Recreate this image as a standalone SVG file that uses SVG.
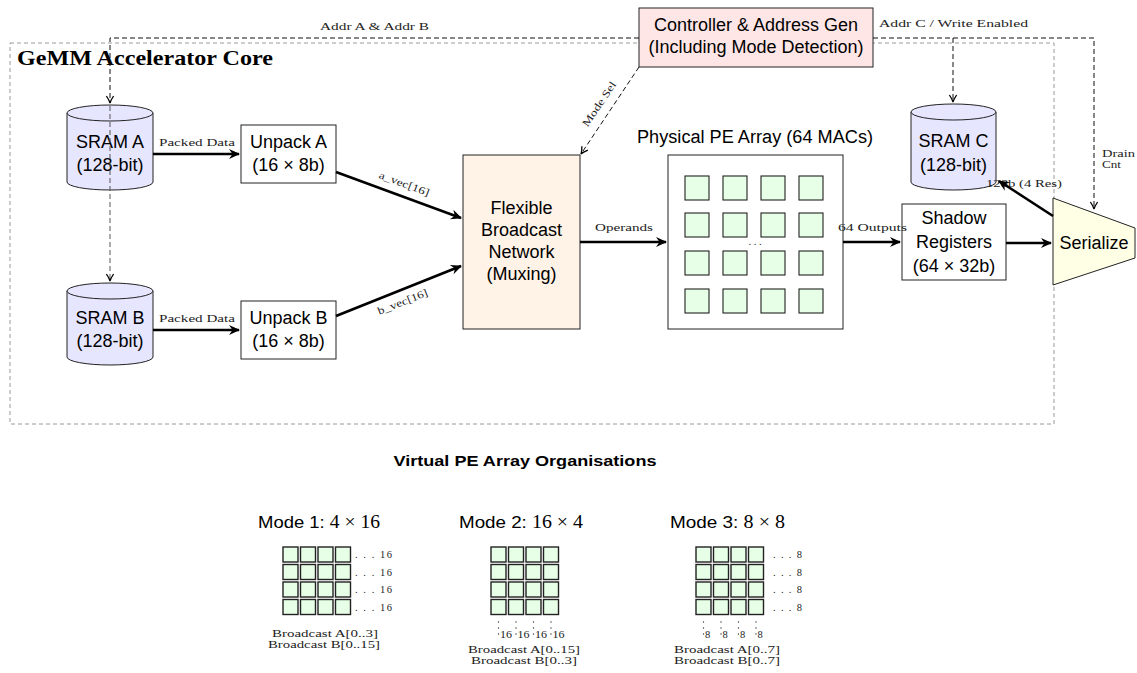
<svg xmlns="http://www.w3.org/2000/svg" width="1137" height="673" viewBox="0 0 1137 673">
  <style>
    .lbl { font-family: "Liberation Sans", Arial, sans-serif; font-size: 18px; fill: #000; text-anchor: middle; }
    .sm { font-family: "Liberation Serif", "Times New Roman", serif; font-size: 10.5px; fill: #222; }
    .mid { text-anchor: middle; }
    .box { stroke: #222; stroke-width: 1; }
    .ctl { fill: none; stroke: #111; stroke-width: 1; stroke-dasharray: 5 3; }
    .data { fill: none; stroke: #000; stroke-width: 2.6; }
    .pe { fill: #e6ffe6; stroke: #222; stroke-width: 1.1; }
    .pes { fill: #e6ffe6; stroke: #222; stroke-width: 1.4; }
    .mode { font-family: "Liberation Sans", Arial, sans-serif; font-size: 17px; fill: #000; }
    .math { font-family: "Liberation Serif", "Times New Roman", serif; font-size: 18px; }
  </style>
  <defs>
    <marker id="ah" viewBox="-9 -5 10 10" refX="0" refY="0" markerWidth="10" markerHeight="10" markerUnits="userSpaceOnUse" orient="auto">
      <path d="M-7,-3.6 Q-2.5,-0.6 0,0 Q-2.5,0.6 -7,3.6" fill="none" stroke="#000" stroke-width="1.3" stroke-dasharray="none"/>
    </marker>
    <marker id="ahb" viewBox="-12 -6 13 12" refX="0" refY="0" markerWidth="13" markerHeight="12" markerUnits="userSpaceOnUse" orient="auto">
      <path d="M1,0 L-10,-5 L-6.5,0 L-10,5 z" fill="#000" stroke="none"/>
    </marker>
  </defs>

  <!-- core boundary -->
  <g id="core">
    <rect x="10" y="43" width="1044" height="381" fill="none" stroke="#9a9a9a" stroke-width="1" stroke-dasharray="4 3"/>
    <text x="17" y="65" font-family="Liberation Serif, Times New Roman, serif" font-size="21" font-weight="bold" textLength="256" lengthAdjust="spacingAndGlyphs">GeMM Accelerator Core</text>
  </g>

  <!-- controller -->
  <g id="controller">
    <rect class="box" x="639" y="8" width="234" height="59" fill="#ffe6e6"/>
    <text class="lbl" x="756" y="31">Controller &amp; Address Gen</text>
    <text class="lbl" x="756" y="53">(Including Mode Detection)</text>
  </g>

  <!-- memories -->
  <g id="sram-a">
    <path class="box" d="M67,113 V182 A43,8 0 0 0 153,182 V113" fill="#e6e6ff"/>
    <ellipse class="box" cx="110" cy="113" rx="43" ry="8" fill="#e6e6ff"/>
    <text class="lbl" x="110" y="148">SRAM A</text>
    <text class="lbl" x="110" y="171">(128-bit)</text>
  </g>
  <g id="sram-b">
    <path class="box" d="M67,291 V357 A43,8 0 0 0 153,357 V291" fill="#e6e6ff"/>
    <ellipse class="box" cx="110" cy="291" rx="43" ry="8" fill="#e6e6ff"/>
    <text class="lbl" x="110" y="324">SRAM B</text>
    <text class="lbl" x="110" y="347">(128-bit)</text>
  </g>
  <g id="sram-c">
    <path class="box" d="M911,112 V182 A42.5,8 0 0 0 996,182 V112" fill="#e6e6ff"/>
    <ellipse class="box" cx="953.5" cy="112" rx="42.5" ry="8" fill="#e6e6ff"/>
    <text class="lbl" x="953.5" y="147">SRAM C</text>
    <text class="lbl" x="953.5" y="171">(128-bit)</text>
  </g>

  <!-- unpackers -->
  <g id="unpack-a">
    <rect class="box" x="241" y="125" width="95" height="58" fill="#fff"/>
    <text class="lbl" x="288.5" y="148">Unpack A</text>
    <text class="lbl" x="288.5" y="171">(16 × 8b)</text>
  </g>
  <g id="unpack-b">
    <rect class="box" x="241" y="301" width="95" height="58" fill="#fff"/>
    <text class="lbl" x="288.5" y="324">Unpack B</text>
    <text class="lbl" x="288.5" y="347">(16 × 8b)</text>
  </g>

  <!-- broadcast network -->
  <g id="broadcast">
    <rect class="box" x="463" y="155" width="117" height="174" fill="#fff2e6"/>
    <text class="lbl" x="521.5" y="214">Flexible</text>
    <text class="lbl" x="521.5" y="236">Broadcast</text>
    <text class="lbl" x="521.5" y="258">Network</text>
    <text class="lbl" x="521.5" y="280">(Muxing)</text>
  </g>

  <!-- physical PE array -->
  <g id="pe-array">
    <text class="lbl" x="755" y="143" textLength="236" lengthAdjust="spacingAndGlyphs">Physical PE Array (64 MACs)</text>
    <rect class="box" x="668" y="155" width="175" height="174" fill="#fff"/>
    <g>
      <rect class="pe" x="685" y="176" width="24" height="24"/><rect class="pe" x="723" y="176" width="24" height="24"/><rect class="pe" x="761" y="176" width="24" height="24"/><rect class="pe" x="799" y="176" width="24" height="24"/>
      <rect class="pe" x="685" y="213" width="24" height="24"/><rect class="pe" x="723" y="213" width="24" height="24"/><rect class="pe" x="761" y="213" width="24" height="24"/><rect class="pe" x="799" y="213" width="24" height="24"/>
      <rect class="pe" x="685" y="251" width="24" height="24"/><rect class="pe" x="723" y="251" width="24" height="24"/><rect class="pe" x="761" y="251" width="24" height="24"/><rect class="pe" x="799" y="251" width="24" height="24"/>
      <rect class="pe" x="685" y="289" width="24" height="24"/><rect class="pe" x="723" y="289" width="24" height="24"/><rect class="pe" x="761" y="289" width="24" height="24"/><rect class="pe" x="799" y="289" width="24" height="24"/>
    </g>
    <text class="sm mid" x="755" y="245" font-size="14">. . .</text>
  </g>

  <!-- shadow registers -->
  <g id="shadow">
    <rect class="box" x="902" y="204" width="104" height="76" fill="#fff"/>
    <text class="lbl" x="954" y="224">Shadow</text>
    <text class="lbl" x="954" y="248">Registers</text>
    <text class="lbl" x="954" y="272">(64 × 32b)</text>
  </g>

  <!-- serializer -->
  <g id="serialize">
    <polygon class="box" points="1053,198 1135,228 1135,258 1053,285" fill="#ffffe6"/>
    <text class="lbl" x="1094" y="249">Serialize</text>
  </g>

  <!-- control and data connectors -->
  <g id="connectors">
    <path class="ctl" d="M639,38 H110 V103" marker-end="url(#ah)"/>
    <path class="ctl" d="M873,38 H1094 V209" marker-end="url(#ah)"/>
    <path class="ctl" d="M953,38 V102" marker-end="url(#ah)"/>
    <path class="ctl" d="M639,67 L581,154" marker-end="url(#ah)"/>
    <path d="M110,106 V281" fill="none" stroke="#555" stroke-width="1" stroke-dasharray="5 3" marker-end="url(#ah)"/>
    <text class="sm mid" x="0" y="0" transform="translate(602,106) rotate(-56)" textLength="52" lengthAdjust="spacingAndGlyphs">Mode Sel</text>
    <text class="sm" x="320" y="30" textLength="109" lengthAdjust="spacingAndGlyphs">Addr A &amp; Addr B</text>
    <text class="sm" x="879" y="27" textLength="149" lengthAdjust="spacingAndGlyphs">Addr C / Write Enabled</text>
    <text class="sm" x="1102" y="157" textLength="33" lengthAdjust="spacingAndGlyphs">Drain</text>
    <text class="sm" x="1102" y="168" textLength="19" lengthAdjust="spacingAndGlyphs">Cnt</text>

    <path class="data" d="M153,154 H239" marker-end="url(#ahb)"/>
    <text class="sm" x="159" y="146" textLength="76" lengthAdjust="spacingAndGlyphs">Packed Data</text>
    <path class="data" d="M153,330 H239" marker-end="url(#ahb)"/>
    <text class="sm" x="159" y="322" textLength="76" lengthAdjust="spacingAndGlyphs">Packed Data</text>

    <path class="data" d="M336,172 L461,218" marker-end="url(#ahb)"/>
    <text class="sm mid" x="0" y="0" transform="translate(403,187) rotate(20.5)" textLength="53" lengthAdjust="spacingAndGlyphs">a_vec[16]</text>
    <path class="data" d="M336,316 L461,266" marker-end="url(#ahb)"/>
    <text class="sm mid" x="0" y="0" transform="translate(404,305) rotate(-21.5)" textLength="53" lengthAdjust="spacingAndGlyphs">b_vec[16]</text>

    <path class="data" d="M580,242 H666" marker-end="url(#ahb)"/>
    <text class="sm" x="595" y="231" textLength="58" lengthAdjust="spacingAndGlyphs">Operands</text>
    <path class="data" d="M843,242 H900" marker-end="url(#ahb)"/>
    <text class="sm" x="838" y="231" textLength="69" lengthAdjust="spacingAndGlyphs">64 Outputs</text>

    <path class="data" d="M1006,243 H1051" marker-end="url(#ahb)"/>
    <text class="sm" x="986" y="187" textLength="76" lengthAdjust="spacingAndGlyphs">128b (4 Res)</text>
    <path class="data" d="M1053,216 L999,181" marker-end="url(#ahb)"/>
  </g>

  <!-- virtual organisations -->
  <g id="virtual-title">
    <text x="525" y="466" font-family="Liberation Sans, Arial, sans-serif" font-size="15" font-weight="bold" text-anchor="middle" textLength="263" lengthAdjust="spacingAndGlyphs">Virtual PE Array Organisations</text>
  </g>

  <g id="mode-1">
    <text class="mode" x="258" y="528" textLength="122" lengthAdjust="spacingAndGlyphs">Mode 1: <tspan class="math">4 × 16</tspan></text>
    <g>
      <rect class="pes" x="283" y="547" width="15" height="15"/><rect class="pes" x="300.5" y="547" width="15" height="15"/><rect class="pes" x="318" y="547" width="15" height="15"/><rect class="pes" x="335.5" y="547" width="15" height="15"/>
      <rect class="pes" x="283" y="564.5" width="15" height="15"/><rect class="pes" x="300.5" y="564.5" width="15" height="15"/><rect class="pes" x="318" y="564.5" width="15" height="15"/><rect class="pes" x="335.5" y="564.5" width="15" height="15"/>
      <rect class="pes" x="283" y="582" width="15" height="15"/><rect class="pes" x="300.5" y="582" width="15" height="15"/><rect class="pes" x="318" y="582" width="15" height="15"/><rect class="pes" x="335.5" y="582" width="15" height="15"/>
      <rect class="pes" x="283" y="599.5" width="15" height="15"/><rect class="pes" x="300.5" y="599.5" width="15" height="15"/><rect class="pes" x="318" y="599.5" width="15" height="15"/><rect class="pes" x="335.5" y="599.5" width="15" height="15"/>
    </g>
    <text class="sm" x="355" y="558" textLength="37" lengthAdjust="spacing">. . . 16</text>
    <text class="sm" x="355" y="575.5" textLength="37" lengthAdjust="spacing">. . . 16</text>
    <text class="sm" x="355" y="593" textLength="37" lengthAdjust="spacing">. . . 16</text>
    <text class="sm" x="355" y="610.5" textLength="37" lengthAdjust="spacing">. . . 16</text>
    <text class="sm mid" x="325" y="637" textLength="106" lengthAdjust="spacingAndGlyphs">Broadcast A[0..3]</text>
    <text class="sm mid" x="324" y="648" textLength="112" lengthAdjust="spacingAndGlyphs">Broadcast B[0..15]</text>
  </g>

  <g id="mode-2">
    <text class="mode" x="459" y="528" textLength="124" lengthAdjust="spacingAndGlyphs">Mode 2: <tspan class="math">16 × 4</tspan></text>
    <g>
      <rect class="pes" x="491" y="547" width="15" height="15"/><rect class="pes" x="508.5" y="547" width="15" height="15"/><rect class="pes" x="526" y="547" width="15" height="15"/><rect class="pes" x="543.5" y="547" width="15" height="15"/>
      <rect class="pes" x="491" y="564.5" width="15" height="15"/><rect class="pes" x="508.5" y="564.5" width="15" height="15"/><rect class="pes" x="526" y="564.5" width="15" height="15"/><rect class="pes" x="543.5" y="564.5" width="15" height="15"/>
      <rect class="pes" x="491" y="582" width="15" height="15"/><rect class="pes" x="508.5" y="582" width="15" height="15"/><rect class="pes" x="526" y="582" width="15" height="15"/><rect class="pes" x="543.5" y="582" width="15" height="15"/>
      <rect class="pes" x="491" y="599.5" width="15" height="15"/><rect class="pes" x="508.5" y="599.5" width="15" height="15"/><rect class="pes" x="526" y="599.5" width="15" height="15"/><rect class="pes" x="543.5" y="599.5" width="15" height="15"/>
    </g>
    <g fill="#333">
      <circle cx="498.5" cy="622" r="0.7"/><circle cx="498.5" cy="628" r="0.7"/><circle cx="498.5" cy="634" r="0.7"/>
      <circle cx="516" cy="622" r="0.7"/><circle cx="516" cy="628" r="0.7"/><circle cx="516" cy="634" r="0.7"/>
      <circle cx="533.5" cy="622" r="0.7"/><circle cx="533.5" cy="628" r="0.7"/><circle cx="533.5" cy="634" r="0.7"/>
      <circle cx="551" cy="622" r="0.7"/><circle cx="551" cy="628" r="0.7"/><circle cx="551" cy="634" r="0.7"/>
    </g>
    <text class="sm" x="500" y="638" textLength="12" lengthAdjust="spacingAndGlyphs">16</text>
    <text class="sm" x="517.5" y="638" textLength="12" lengthAdjust="spacingAndGlyphs">16</text>
    <text class="sm" x="535" y="638" textLength="12" lengthAdjust="spacingAndGlyphs">16</text>
    <text class="sm" x="552.5" y="638" textLength="12" lengthAdjust="spacingAndGlyphs">16</text>
    <text class="sm mid" x="524" y="653" textLength="112" lengthAdjust="spacingAndGlyphs">Broadcast A[0..15]</text>
    <text class="sm mid" x="524" y="664" textLength="106" lengthAdjust="spacingAndGlyphs">Broadcast B[0..3]</text>
  </g>

  <g id="mode-3">
    <text class="mode" x="670" y="528" textLength="115" lengthAdjust="spacingAndGlyphs">Mode 3: <tspan class="math">8 × 8</tspan></text>
    <g>
      <rect class="pes" x="696" y="547" width="15" height="15"/><rect class="pes" x="713.5" y="547" width="15" height="15"/><rect class="pes" x="731" y="547" width="15" height="15"/><rect class="pes" x="748.5" y="547" width="15" height="15"/>
      <rect class="pes" x="696" y="564.5" width="15" height="15"/><rect class="pes" x="713.5" y="564.5" width="15" height="15"/><rect class="pes" x="731" y="564.5" width="15" height="15"/><rect class="pes" x="748.5" y="564.5" width="15" height="15"/>
      <rect class="pes" x="696" y="582" width="15" height="15"/><rect class="pes" x="713.5" y="582" width="15" height="15"/><rect class="pes" x="731" y="582" width="15" height="15"/><rect class="pes" x="748.5" y="582" width="15" height="15"/>
      <rect class="pes" x="696" y="599.5" width="15" height="15"/><rect class="pes" x="713.5" y="599.5" width="15" height="15"/><rect class="pes" x="731" y="599.5" width="15" height="15"/><rect class="pes" x="748.5" y="599.5" width="15" height="15"/>
    </g>
    <text class="sm" x="773" y="558" textLength="29" lengthAdjust="spacing">. . . 8</text>
    <text class="sm" x="773" y="575.5" textLength="29" lengthAdjust="spacing">. . . 8</text>
    <text class="sm" x="773" y="593" textLength="29" lengthAdjust="spacing">. . . 8</text>
    <text class="sm" x="773" y="610.5" textLength="29" lengthAdjust="spacing">. . . 8</text>
    <g fill="#333">
      <circle cx="703.5" cy="622" r="0.7"/><circle cx="703.5" cy="628" r="0.7"/><circle cx="703.5" cy="634" r="0.7"/>
      <circle cx="721" cy="622" r="0.7"/><circle cx="721" cy="628" r="0.7"/><circle cx="721" cy="634" r="0.7"/>
      <circle cx="738.5" cy="622" r="0.7"/><circle cx="738.5" cy="628" r="0.7"/><circle cx="738.5" cy="634" r="0.7"/>
      <circle cx="756" cy="622" r="0.7"/><circle cx="756" cy="628" r="0.7"/><circle cx="756" cy="634" r="0.7"/>
    </g>
    <text class="sm" x="705" y="638">8</text>
    <text class="sm" x="722.5" y="638">8</text>
    <text class="sm" x="740" y="638">8</text>
    <text class="sm" x="757.5" y="638">8</text>
    <text class="sm mid" x="727" y="653" textLength="106" lengthAdjust="spacingAndGlyphs">Broadcast A[0..7]</text>
    <text class="sm mid" x="727" y="664" textLength="106" lengthAdjust="spacingAndGlyphs">Broadcast B[0..7]</text>
  </g>
</svg>
